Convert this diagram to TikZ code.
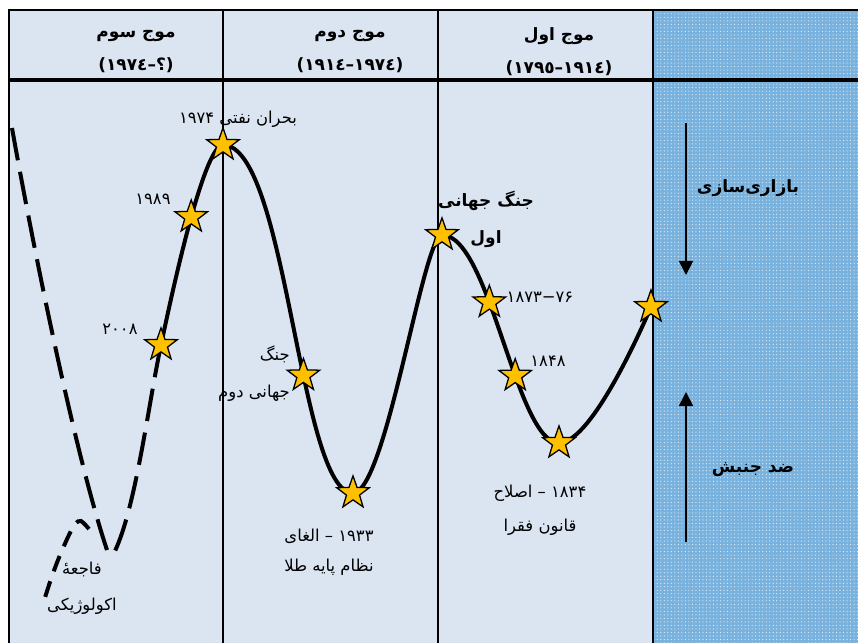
\documentclass[tikz,border=0pt]{standalone}
\usepackage{fontspec}
\newfontfamily\fa[Script=Arabic]{DejaVu Sans}
\TeXXeTstate=1
\usetikzlibrary{shapes.geometric,arrows.meta,patterns}

\definecolor{paleblue}{RGB}{219,228,241}
\definecolor{dotblue}{RGB}{122,178,222}
\definecolor{staryellow}{RGB}{255,192,0}

\tikzset{
  starmark/.style={star,star points=5,star point ratio=2.5,minimum size=1.03cm,
    inner sep=0pt,fill=staryellow,draw=black,line width=1.1pt,solid},
  wave/.style={line width=3.4pt},
  dashwave/.style={line width=3.4pt,dash pattern=on 28pt off 10pt},
  colline/.style={line width=2pt},
  lbl/.style={font=\fa\fontsize{14}{31}\selectfont,inner sep=0pt,align=center},
  head/.style={font=\fa\bfseries\fontsize{14.5}{28}\selectfont,inner sep=0pt,align=center},
  trend/.style={line width=1.5pt,-{Triangle[length=12pt,width=12pt]}}
}

\begin{document}
\begin{tikzpicture}[x=0.03cm,y=0.03cm]
\useasboundingbox (0,0) rectangle (858,-643);
% panels
\fill[paleblue] (9,-10) rectangle (653,-643);
\fill[dotblue] (653,-10) rectangle (858,-643);
\fill[pattern=dots,pattern color=white!80!dotblue] (653,-10) rectangle (858,-643);
% table lines
\draw[colline] (9,-643) -- (9,-10) -- (858,-10);
\draw[line width=3pt] (9,-80) -- (858,-80);
\foreach \x in {223,438,653}
  \draw[colline] (\x,-10) -- (\x,-643);

% header
\node[head] (h3) at (136,-51.5) {\beginR موج سوم\endR\\(؟–١٩٧٤)};
\node[head] (h2) at (350,-51.5) {\beginR موج دوم\endR\\(١٩٧٤–١٩١٤)};
\node[head] (h1) at (559,-51.5) {\beginR موج اول\endR\\(١٩١٤–١٧٩٥)};

% turning points of the wave
\coordinate (w1) at (651,-307);
\coordinate (w2) at (559,-443);
\coordinate (w5) at (442,-235);
\coordinate (w6) at (353,-493);
\coordinate (w8) at (223,-145);
\coordinate (w10) at (161,-345);

% dashed futures
\coordinate (d1) at (115,-551);
\coordinate (e0) at (12,-128);
\coordinate (e1) at (107,-550);
\coordinate (f0) at (89,-529);
\coordinate (f1) at (43,-604);
\draw[dashwave] (w10) .. controls +(-12.5,-58.7) and +(21,45) .. (d1);
\draw[dashwave] (e0) .. controls +(25,-140) and +(-30,90) .. (e1);
\draw[dashwave,dash pattern=on 14pt off 9pt] plot[smooth,tension=.5]
  coordinates {(f0) (81,-521) (75,-524) (68,-537) (58,-560) (50,-582) (f1)};

% the wave
\draw[wave] (w10) .. controls +(8.3,39) and +(-20,0) .. (w8)
    node[starmark,pos=.55] (s9) {}
  .. controls +(64,0) and +(-54,0) .. (w6)
    node[starmark,pos=.61] (s7) {}
  .. controls +(33,0) and +(-19,0) .. (w5)
  .. controls +(48,0) and +(-43,0) .. (w2)
    node[starmark,pos=.38] (s4) {}
    node[starmark,pos=.62] (s3) {}
  .. controls +(30,0) and +(-16,-37) .. (w1);
\foreach \i in {1,2,5,6,8,10}
  \node[starmark] (s\i) at (w\i) {};

% labels
\node[lbl] (t1974) at (238,-119) {\beginR بحران نفتی ۱۹۷۴\endR};
\node[lbl] (t1989) at (153,-199) {۱۹۸۹};
\node[lbl] (t2008) at (120,-329) {۲۰۰۸};
\node[lbl,align=right,anchor=east] (tww2) at (290,-373.5)
  {\beginR جنگ\endR\\\beginR جهانی دوم\endR};
\node[lbl,font=\fa\bfseries\fontsize{14.5}{31}\selectfont] (tww1) at (486,-219.5)
  {\beginR جنگ جهانی\endR\\\beginR اول\endR};
\node[lbl] (t1873) at (540,-297) {۱۸۷۳−۷۶};
\node[lbl] (t1848) at (548,-361) {۱۸۴۸};
\node[lbl] (t1834) at (540,-510)
  {\beginR ۱۸۳۴ – اصلاح\endR\\[-2pt]\beginR قانون فقرا\endR};
\node[lbl] (t1933) at (329,-552.5)
  {\beginR ۱۹۳۳ – الغای\endR\\[-5pt]\beginR نظام پایه طلا\endR};
\node[lbl] (teco) at (82,-588)
  {\beginR فاجعهٔ\endR\\\beginR اکولوژیکی\endR};

% trends
\coordinate (m0) at (686,-123);
\coordinate (m1) at (686,-275);
\draw[trend] (m0) -- (m1);
\coordinate (n0) at (686,-542);
\coordinate (n1) at (686,-392);
\draw[trend] (n0) -- (n1);
\node[head] (tmarket) at (748,-188) {\beginR بازاری‌سازی\endR};
\node[head] (tcounter) at (753,-470) {\beginR ضد جنبش\endR};
\end{tikzpicture}
\end{document}
